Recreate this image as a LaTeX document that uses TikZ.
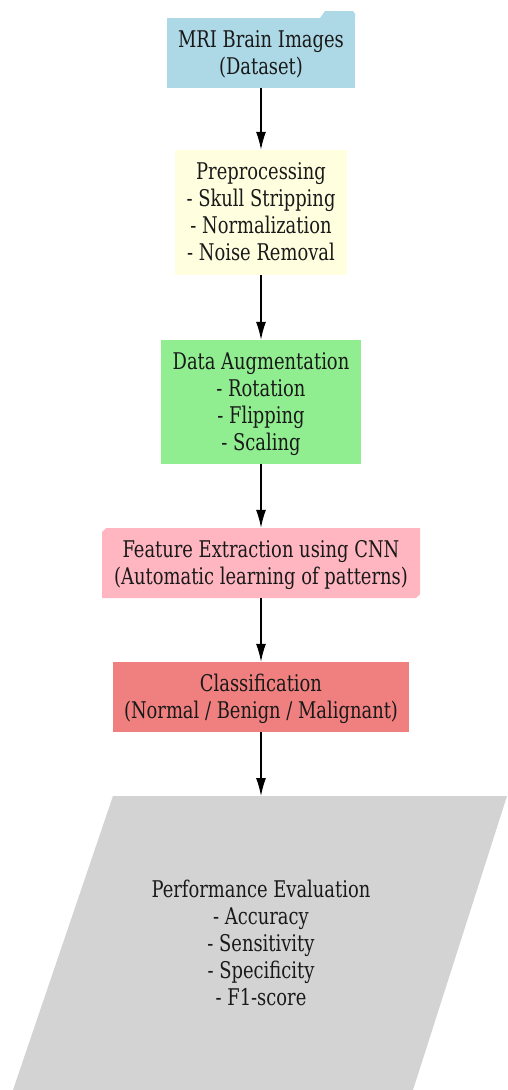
\documentclass[tikz,border=0pt]{standalone}
\usepackage{fontspec}
\setmainfont{DejaVu Serif Condensed}
\usetikzlibrary{arrows.meta}
\definecolor{cblue}{RGB}{173,216,230}
\definecolor{cyellow}{RGB}{255,255,224}
\definecolor{cgreen}{RGB}{144,238,144}
\definecolor{cpink}{RGB}{255,182,193}
\definecolor{ccoral}{RGB}{240,128,128}
\definecolor{cgray}{RGB}{211,211,211}
\newcommand{\condtext}[1]{\scalebox{0.865}[1]{\begin{tabular}{@{}c@{}}#1\end{tabular}}}
\tikzset{
  x=1pt,y=-1pt,
  txt/.style={align=center,inner sep=0pt,yshift=-2.5pt,font=\fontsize{23}{27}\selectfont\color{black!90}},
  box/.style={rectangle,inner sep=0pt,minimum width=#1},
  conn/.style={draw=black,line width=1.3pt,-{Latex[length=18pt,width=10pt]}},
}
\begin{document}
\begin{tikzpicture}
\useasboundingbox[fill=white] (0,0) rectangle (507,1090);
% MRI folder
\fill[cblue] (320,18) -- (325,11) -- (353,11) -- (355,14) -- (355,18) -- cycle;
\node[box=188pt,minimum height=70pt,fill=cblue] (mri) at (261,53) {};
\node[txt] (mritxt) at (mri.center) {\condtext{MRI Brain Images\\(Dataset)}};
% Preprocessing
\node[box=172pt,minimum height=125pt,fill=cyellow] (pre) at (261,212.5) {};
\node[txt] (pretxt) at (pre.center) {\condtext{Preprocessing\\- Skull Stripping\\- Normalization\\- Noise Removal}};
% Data augmentation
\node[box=200pt,minimum height=124pt,fill=cgreen] (aug) at (261,402) {};
\node[txt] (augtxt) at (aug.center) {\condtext{Data Augmentation\\- Rotation\\- Flipping\\- Scaling}};
% Feature extraction (chamfered corners)
\fill[cpink] (106,528) -- (420,528) -- (420,594) -- (416,598) -- (102,598) -- (102,532) -- cycle;
\node[box=318pt,minimum height=70pt] (feat) at (261,563) {};
\node[txt] (feattxt) at (feat.center) {\condtext{Feature Extraction using CNN\\(Automatic learning of patterns)}};
% Classification
\node[box=296pt,minimum height=70pt,fill=ccoral] (cls) at (261,697) {};
\node[txt] (clstxt) at (cls.center) {\condtext{Classification\\(Normal / Benign / Malignant)}};
% Performance evaluation parallelogram
\fill[cgray] (113,796) -- (507,796) -- (413,1090) -- (13,1090) -- cycle;
\coordinate (perftop) at (261,796);
\node[txt] (perf) at (261,944) {\condtext{Performance Evaluation\\- Accuracy\\- Sensitivity\\- Specificity\\- F1-score}};
% connectors
\draw[conn] (mri.south) -- (pre.north);
\draw[conn] (pre.south) -- (aug.north);
\draw[conn] (aug.south) -- (feat.north);
\draw[conn] (feat.south) -- (cls.north);
\draw[conn] (cls.south) -- (perftop);
\end{tikzpicture}
\end{document}
